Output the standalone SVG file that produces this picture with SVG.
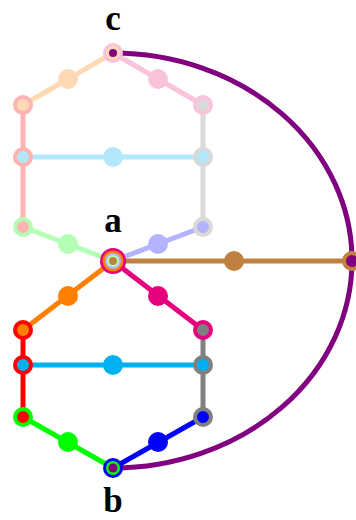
<svg xmlns="http://www.w3.org/2000/svg" width="356" height="520" viewBox="0 0 356 520">
<style>
.e{fill:none;stroke-width:5;stroke-linecap:round}
.v{stroke-width:4}
.lbl{font-family:"Liberation Serif",serif;font-weight:bold;font-size:35px;text-anchor:middle;fill:#000}
</style>
<rect width="356" height="520" fill="#fff"/>
<g id="connectors">
  <path class="e" stroke="#ffd9b3" d="M113,53 L23,105"/>
  <path class="e" stroke="#f9c3dc" d="M113,53 L203,105"/>
  <path class="e" stroke="#ffb3b3" d="M23,105 L23,227"/>
  <path class="e" stroke="#d9d9d9" d="M203,105 L203,227"/>
  <path class="e" stroke="#b3e7fb" d="M23,157 L203,157"/>
  <path class="e" stroke="#b3ffb3" d="M23,227 L113,261"/>
  <path class="e" stroke="#b3b3ff" d="M203,227 L113,261"/>
  <path class="e" stroke="#ff7f00" d="M113,261 L23,330"/>
  <path class="e" stroke="#e6007e" d="M113,261 L203,330"/>
  <path class="e" stroke="#ff0000" d="M23,330 L23,417"/>
  <path class="e" stroke="#808080" d="M203,330 L203,417"/>
  <path class="e" stroke="#00b0f0" d="M23,365 L203,365"/>
  <path class="e" stroke="#00ff00" d="M23,417 L113,468"/>
  <path class="e" stroke="#0000ff" d="M203,417 L113,468"/>
  <path class="e" stroke="#bf8040" d="M113,261 L352,261"/>
  <path class="e" stroke="#800080" d="M113,53 A239,207.5 0 0 1 113,468"/>
</g>
<g id="mid-dots">
  <circle cx="68" cy="79" r="10" fill="#ffd9b3"/>
  <circle cx="158" cy="79" r="10" fill="#f9c3dc"/>
  <circle cx="113" cy="157" r="10" fill="#b3e7fb"/>
  <circle cx="68" cy="244" r="10" fill="#b3ffb3"/>
  <circle cx="158" cy="244" r="10" fill="#b3b3ff"/>
  <circle cx="68" cy="296" r="10" fill="#ff7f00"/>
  <circle cx="158" cy="296" r="10" fill="#e6007e"/>
  <circle cx="113" cy="365" r="10" fill="#00b0f0"/>
  <circle cx="68" cy="442" r="10" fill="#00ff00"/>
  <circle cx="158" cy="442" r="10" fill="#0000ff"/>
  <circle cx="234" cy="261" r="10" fill="#bf8040"/>
</g>
<g id="n-ul1"><circle class="v" cx="23" cy="105" r="8" fill="#ffd9b3" stroke="#ffb3b3"/></g>
<g id="n-ul2"><circle class="v" cx="23" cy="157" r="8" fill="#b3e7fb" stroke="#ffb3b3"/></g>
<g id="n-ul3"><circle class="v" cx="23" cy="227" r="8" fill="#ffb3b3" stroke="#b3ffb3"/></g>
<g id="n-ur1"><circle class="v" cx="203" cy="105" r="8" fill="#d9d9d9" stroke="#f9c3dc"/></g>
<g id="n-ur2"><circle class="v" cx="203" cy="157" r="8" fill="#b3e7fb" stroke="#d9d9d9"/></g>
<g id="n-ur3"><circle class="v" cx="203" cy="227" r="8" fill="#b3b3ff" stroke="#d9d9d9"/></g>
<g id="n-ll1"><circle class="v" cx="23" cy="330" r="8" fill="#ff7f00" stroke="#ff0000"/></g>
<g id="n-ll2"><circle class="v" cx="23" cy="365" r="8" fill="#00b0f0" stroke="#ff0000"/></g>
<g id="n-ll3"><circle class="v" cx="23" cy="417" r="8" fill="#ff0000" stroke="#00ff00"/></g>
<g id="n-lr1"><circle class="v" cx="203" cy="330" r="8" fill="#808080" stroke="#e6007e"/></g>
<g id="n-lr2"><circle class="v" cx="203" cy="365" r="8" fill="#00b0f0" stroke="#808080"/></g>
<g id="n-lr3"><circle class="v" cx="203" cy="417" r="8" fill="#0000ff" stroke="#808080"/></g>
<g id="n-right"><circle class="v" cx="352" cy="261" r="8" fill="#800080" stroke="#bf8040"/></g>
<g id="n-c">
  <circle cx="113" cy="53" r="10" fill="#f9c3dc"/>
  <circle cx="113" cy="53" r="7" fill="#ffd9b3"/>
  <circle cx="113" cy="53" r="4" fill="#800080"/>
  <text class="lbl" x="113" y="30">c</text>
</g>
<g id="n-a">
  <circle cx="113" cy="261" r="13" fill="#e6007e"/>
  <circle cx="113" cy="261" r="10.5" fill="#ff7f00"/>
  <circle cx="113" cy="261" r="8" fill="#b3b3ff"/>
  <circle cx="113" cy="261" r="6" fill="#b3ffb3"/>
  <circle cx="113" cy="261" r="4" fill="#bf8040"/>
  <text class="lbl" x="113" y="232">a</text>
</g>
<g id="n-b">
  <circle cx="113" cy="468" r="10" fill="#0000ff"/>
  <circle cx="113" cy="468" r="7" fill="#00ff00"/>
  <circle cx="113" cy="468" r="4.5" fill="#800080"/>
  <text class="lbl" x="113" y="512">b</text>
</g>
</svg>
